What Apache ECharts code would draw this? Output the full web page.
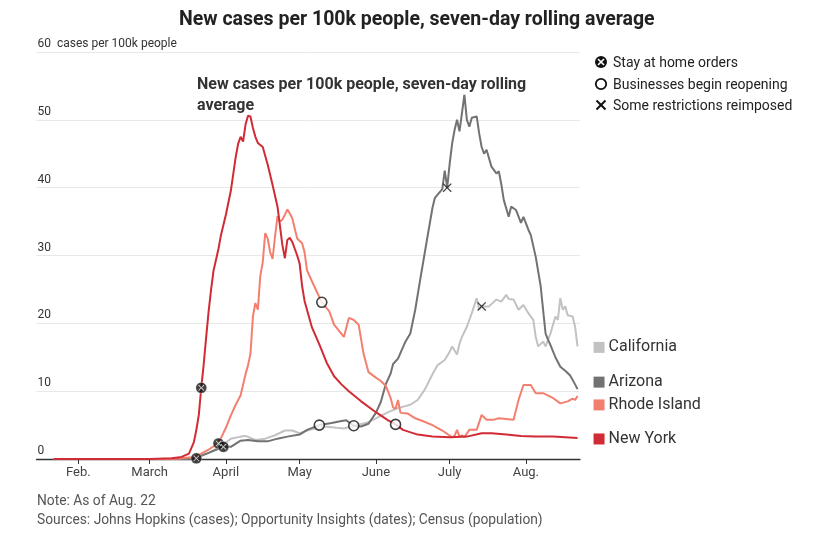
<!DOCTYPE html>
<html>
<head>
<meta charset="utf-8">
<script src="https://cdn.jsdelivr.net/npm/echarts@6/dist/echarts.min.js"></script>
<style>
html,body{margin:0;padding:0;background:#fff;}
#c{width:817px;height:550px;}
</style>
</head>
<body>
<div id="c"></div>
<script>
const chartTitle = 'New cases per 100k people, seven-day rolling average';
const innerTitle = 'New cases per 100k people, seven-day rolling\naverage';
const yTicks = [0, 10, 20, 30, 40, 50, 60];
const yUnit = 'cases per 100k people';
const monthLabels = ['Jan.', 'Feb.', 'March', 'April', 'May', 'June', 'July', 'Aug.'];
const seriesNames = ['California', 'Arizona', 'Rhode Island', 'New York'];
const markerNames = ['Stay at home orders', 'Businesses begin reopening', 'Some restrictions reimposed'];
const noteLines = ['Note: As of Aug. 22', 'Sources: Johns Hopkins (cases); Opportunity Insights (dates); Census (population)'];

const newYork = [
  ['2020-01-22',0],['2020-03-01',0],['2020-03-10',0.1],['2020-03-14',0.3],['2020-03-17',0.8],
  ['2020-03-19',2.5],['2020-03-20',4.3],['2020-03-21',6.5],['2020-03-22',10.5],['2020-03-23',14.0],
  ['2020-03-24',18.0],['2020-03-25',21.8],['2020-03-26',25.0],['2020-03-27',27.8],['2020-03-29',31.0],
  ['2020-03-30',33.0],['2020-04-01',36.0],['2020-04-03',39.5],['2020-04-05',44.5],['2020-04-06',46.5],
  ['2020-04-07',47.5],['2020-04-08',46.8],['2020-04-09',49.3],['2020-04-10',50.6],['2020-04-11',50.5],
  ['2020-04-12',48.8],['2020-04-13',47.5],['2020-04-14',46.6],['2020-04-16',46.0],['2020-04-18',43.4],
  ['2020-04-20',40.4],['2020-04-22',37.2],['2020-04-24',31.5],['2020-04-25',29.6],['2020-04-26',32.3],
  ['2020-04-27',32.6],['2020-04-28',32.0],['2020-04-30',30.0],['2020-05-01',28.8],['2020-05-02',25.5],
  ['2020-05-03',23.3],['2020-05-06',19.4],['2020-05-09',16.9],['2020-05-12',14.2],['2020-05-15',12.2],
  ['2020-05-18',11.0],['2020-05-21',10.0],['2020-05-26',8.5],['2020-06-01',6.9],['2020-06-06',5.7],
  ['2020-06-09',5.1],['2020-06-12',4.3],['2020-06-18',3.6],['2020-06-24',3.3],['2020-07-01',3.2],
  ['2020-07-08',3.3],['2020-07-14',3.8],['2020-07-18',3.8],['2020-07-24',3.6],['2020-07-30',3.4],
  ['2020-08-05',3.3],['2020-08-12',3.3],['2020-08-17',3.2],['2020-08-22',3.1]
];

const rhodeIsland = [
  ['2020-01-22',0],['2020-03-10',0],['2020-03-14',0.1],['2020-03-19',0.3],['2020-03-22',0.8],
  ['2020-03-25',1.4],['2020-03-29',2.3],['2020-04-01',4.6],['2020-04-03',6.4],['2020-04-05',8.0],
  ['2020-04-07',9.4],['2020-04-09',12.5],['2020-04-10',13.8],['2020-04-11',15.5],['2020-04-12',21.0],
  ['2020-04-13',23.0],['2020-04-14',22.0],['2020-04-15',27.0],['2020-04-16',29.0],['2020-04-17',33.3],
  ['2020-04-18',32.5],['2020-04-19',30.5],['2020-04-20',29.5],['2020-04-21',32.8],['2020-04-22',35.8],
  ['2020-04-23',35.0],['2020-04-24',35.3],['2020-04-25',36.0],['2020-04-26',36.8],['2020-04-27',36.2],
  ['2020-04-28',35.5],['2020-04-30',32.5],['2020-05-02',31.8],['2020-05-03',30.5],['2020-05-04',27.8],
  ['2020-05-06',26.2],['2020-05-10',23.1],['2020-05-13',21.8],['2020-05-15',19.8],['2020-05-19',18.0],
  ['2020-05-21',20.8],['2020-05-23',20.5],['2020-05-25',19.8],['2020-05-27',15.5],['2020-05-29',12.8],
  ['2020-06-01',12.0],['2020-06-03',11.5],['2020-06-05',10.8],['2020-06-07',9.0],['2020-06-08',7.6],
  ['2020-06-09',7.4],['2020-06-10',8.7],['2020-06-11',6.8],['2020-06-14',6.7],['2020-06-17',6.0],
  ['2020-06-20',5.6],['2020-06-24',5.0],['2020-06-28',4.2],['2020-07-02',3.2],['2020-07-03',3.4],
  ['2020-07-04',4.3],['2020-07-05',3.3],['2020-07-06',3.5],['2020-07-07',3.2],['2020-07-09',4.3],
  ['2020-07-12',4.3],['2020-07-14',6.5],['2020-07-16',5.8],['2020-07-19',5.8],['2020-07-21',6.0],
  ['2020-07-24',5.9],['2020-07-27',5.8],['2020-07-29',8.7],['2020-07-31',10.9],['2020-08-03',10.9],
  ['2020-08-05',9.7],['2020-08-08',9.7],['2020-08-12',9.0],['2020-08-15',8.2],['2020-08-18',8.5],
  ['2020-08-20',8.9],['2020-08-21',8.7],['2020-08-22',9.3]
];

const arizona = [
  ['2020-01-22',0],['2020-03-10',0],['2020-03-19',0.1],['2020-03-25',0.9],['2020-03-31',1.8],
  ['2020-04-03',1.8],['2020-04-07',2.7],['2020-04-10',2.8],['2020-04-14',2.6],['2020-04-18',2.6],
  ['2020-04-22',3.0],['2020-04-26',3.3],['2020-05-01',3.6],['2020-05-04',4.3],['2020-05-09',5.0],
  ['2020-05-14',5.3],['2020-05-18',5.6],['2020-05-20',5.7],['2020-05-23',4.9],['2020-05-26',4.8],
  ['2020-05-29',5.2],['2020-06-01',6.8],['2020-06-03',8.4],['2020-06-05',11.0],['2020-06-07',12.6],
  ['2020-06-08',14.0],['2020-06-10',14.8],['2020-06-13',17.3],['2020-06-15',18.5],['2020-06-17',22.0],
  ['2020-06-19',26.4],['2020-06-22',32.8],['2020-06-24',37.0],['2020-06-25',38.5],['2020-06-28',39.8],
  ['2020-06-29',42.5],['2020-06-30',40.0],['2020-07-01',43.5],['2020-07-02',46.5],['2020-07-03',48.5],
  ['2020-07-04',50.0],['2020-07-05',48.3],['2020-07-06',51.0],['2020-07-07',53.7],['2020-07-08',50.0],
  ['2020-07-09',49.0],['2020-07-10',50.3],['2020-07-12',50.5],['2020-07-13',48.0],['2020-07-14',46.0],
  ['2020-07-15',45.0],['2020-07-16',45.6],['2020-07-18',43.1],['2020-07-20',42.1],['2020-07-21',42.4],
  ['2020-07-22',40.5],['2020-07-23',38.2],['2020-07-25',35.7],['2020-07-26',37.2],['2020-07-28',36.7],
  ['2020-07-30',34.8],['2020-07-31',35.7],['2020-08-02',33.8],['2020-08-03',33.0],['2020-08-05',29.8],
  ['2020-08-07',25.5],['2020-08-09',18.5],['2020-08-10',17.6],['2020-08-11',16.8],['2020-08-13',15.0],
  ['2020-08-15',13.6],['2020-08-17',13.0],['2020-08-19',12.3],['2020-08-21',11.0],['2020-08-22',10.3]
];

const california = [
  ['2020-01-22',0],['2020-03-05',0],['2020-03-10',0.05],['2020-03-20',0.1],['2020-03-25',0.9],
  ['2020-03-31',2.1],['2020-04-03',3.0],['2020-04-07',3.3],['2020-04-09',3.4],['2020-04-13',2.8],
  ['2020-04-17',3.0],['2020-04-21',3.5],['2020-04-25',4.2],['2020-04-28',4.2],['2020-05-01',3.8],
  ['2020-05-06',4.4],['2020-05-11',4.8],['2020-05-16',4.6],['2020-05-19',4.5],['2020-05-23',4.9],
  ['2020-05-28',5.3],['2020-06-01',6.0],['2020-06-06',6.9],['2020-06-10',7.5],['2020-06-15',8.0],
  ['2020-06-18',8.7],['2020-06-21',10.3],['2020-06-24',12.5],['2020-06-26',13.8],['2020-06-29',14.6],
  ['2020-07-01',15.8],['2020-07-02',16.6],['2020-07-04',15.4],['2020-07-05',17.0],['2020-07-06',18.0],
  ['2020-07-08',19.5],['2020-07-10',21.5],['2020-07-12',23.7],['2020-07-13',22.0],['2020-07-14',22.5],
  ['2020-07-17',22.5],['2020-07-20',23.5],['2020-07-22',23.2],['2020-07-24',24.2],['2020-07-25',23.6],
  ['2020-07-27',23.5],['2020-07-29',22.0],['2020-07-31',22.7],['2020-08-02',21.5],['2020-08-04',20.5],
  ['2020-08-05',18.0],['2020-08-06',16.6],['2020-08-08',17.3],['2020-08-09',16.6],['2020-08-11',18.5],
  ['2020-08-13',21.0],['2020-08-14',20.5],['2020-08-15',23.7],['2020-08-16',22.0],['2020-08-17',22.5],
  ['2020-08-18',21.2],['2020-08-20',21.0],['2020-08-21',19.5],['2020-08-22',16.6]
];

const stayAtHome = [['2020-03-20',0.1],['2020-03-22',10.5],['2020-03-29',2.3],['2020-03-31',1.8]];
const reopening = [['2020-05-09',5.0],['2020-05-10',23.1],['2020-05-23',4.9],['2020-06-09',5.1]];
const reimposed = [['2020-06-30',40.0],['2020-07-14',22.5]];

const colors = {
  'California': '#c2c2c2',
  'Arizona': '#727272',
  'Rhode Island': '#f3806f',
  'New York': '#d12b35'
};
const labelShift = {'California': 1, 'Arizona': -7, 'Rhode Island': 9, 'New York': 1};
const seriesData = {
  'California': california,
  'Arizona': arizona,
  'Rhode Island': rhodeIsland,
  'New York': newYork
};

const FONT = 'Roboto';
const xPath = 'path://M1,0L5,4L9,0L10,1L6,5L10,9L9,10L5,6L1,10L0,9L4,5L0,1Z';

const chart = echarts.init(document.getElementById('c'));

const lineSeries = seriesNames.map(function (name) {
  return {
    name: name,
    type: 'line',
    data: seriesData[name],
    showSymbol: false,
    symbol: 'none',
    lineStyle: {color: colors[name], width: 2},
    itemStyle: {color: colors[name]},
    z: 2,
    endLabel: {
      show: true,
      distance: 16,
      offset: [0, labelShift[name]],
      formatter: function (p) { return '{sq|}{t|' + p.seriesName + '}'; },
      rich: {
        sq: {width: 11, height: 11, backgroundColor: colors[name]},
        t: {fontFamily: FONT, fontSize: 16, color: '#333', padding: [0, 0, 0, 4]}
      }
    },
    animation: false
  };
});

function legendText(x, y, text) {
  return {type: 'text', x: x, y: y, style: {text: text, fontFamily: FONT, fontSize: 14, fill: '#222', verticalAlign: 'middle'}};
}

const option = {
  animation: false,
  backgroundColor: '#fff',
  textStyle: {fontFamily: FONT},
  title: [
    {text: chartTitle, left: 174, top: 5,
     textStyle: {fontFamily: FONT, fontWeight: 'bold', fontSize: 19.5, color: '#222'}},
    {text: innerTitle, left: 192, top: 69,
     textStyle: {fontFamily: FONT, fontWeight: 'bold', fontSize: 16, lineHeight: 21, color: '#333'}}
  ],
  grid: {left: 36.5, right: 237, top: 52, bottom: 91},
  xAxis: {
    type: 'time',
    min: '2020-01-15',
    max: '2020-08-23',
    splitNumber: 7,
    minInterval: 28 * 86400000,
    maxInterval: 31 * 86400000,
    axisLine: {show: true, lineStyle: {color: '#333', width: 1.3}},
    axisTick: {show: true, length: 5, lineStyle: {color: '#333', width: 1}},
    splitLine: {show: false},
    axisLabel: {
      color: '#444', fontFamily: FONT, fontSize: 13, margin: 7,
      formatter: function (v) { return monthLabels[new Date(v).getMonth()]; }
    }
  },
  yAxis: {
    type: 'value',
    min: yTicks[0],
    max: yTicks[yTicks.length - 1],
    interval: 10,
    axisLine: {show: false},
    axisTick: {show: false},
    splitLine: {show: true, lineStyle: {color: '#e8e8e8', width: 1}},
    axisLabel: {
      inside: true, margin: 1, verticalAlign: 'bottom', padding: [0, 0, 2, 0],
      color: '#333', fontFamily: FONT, fontSize: 12,
      formatter: function (v) { return v === yTicks[yTicks.length - 1] ? v + '  ' + yUnit : String(v); }
    }
  },
  series: lineSeries.concat([
    {
      name: markerNames[0], type: 'scatter', data: stayAtHome, symbol: 'circle', symbolSize: 11,
      itemStyle: {color: '#111', borderColor: '#fff', borderWidth: 0.5}, z: 5, silent: true
    },
    {
      name: markerNames[0] + ' x', type: 'scatter', data: stayAtHome, symbol: xPath, symbolSize: 6,
      itemStyle: {color: '#fff'}, z: 6, silent: true
    },
    {
      name: markerNames[1], type: 'scatter', data: reopening, symbol: 'circle', symbolSize: 10,
      itemStyle: {color: '#fff', borderColor: '#111', borderWidth: 1.6}, z: 5, silent: true
    },
    {
      name: markerNames[2], type: 'scatter', data: reimposed, symbol: xPath, symbolSize: 9,
      itemStyle: {color: '#111'}, z: 5, silent: true
    }
  ]),
  graphic: [
    {type: 'circle', shape: {cx: 601, cy: 62, r: 6}, style: {fill: '#111'}},
    {type: 'line', shape: {x1: 598, y1: 59, x2: 604, y2: 65}, style: {stroke: '#fff', lineWidth: 1.6}},
    {type: 'line', shape: {x1: 604, y1: 59, x2: 598, y2: 65}, style: {stroke: '#fff', lineWidth: 1.6}},
    legendText(613, 63, markerNames[0]),
    {type: 'circle', shape: {cx: 601, cy: 84, r: 5.2}, style: {fill: '#fff', stroke: '#111', lineWidth: 1.8}},
    legendText(613, 85, markerNames[1]),
    {type: 'line', shape: {x1: 596.5, y1: 100.5, x2: 605.5, y2: 109.5}, style: {stroke: '#111', lineWidth: 2}},
    {type: 'line', shape: {x1: 605.5, y1: 100.5, x2: 596.5, y2: 109.5}, style: {stroke: '#111', lineWidth: 2}},
    legendText(613, 106, markerNames[2]),
    {type: 'text', x: 37, y: 502, style: {text: noteLines[0], fontFamily: FONT, fontSize: 13.8, fill: '#555', verticalAlign: 'middle'}},
    {type: 'text', x: 37, y: 521, style: {text: noteLines[1], fontFamily: FONT, fontSize: 13.8, fill: '#555', verticalAlign: 'middle'}}
  ]
};

chart.setOption(option);
</script>
</body>
</html>
